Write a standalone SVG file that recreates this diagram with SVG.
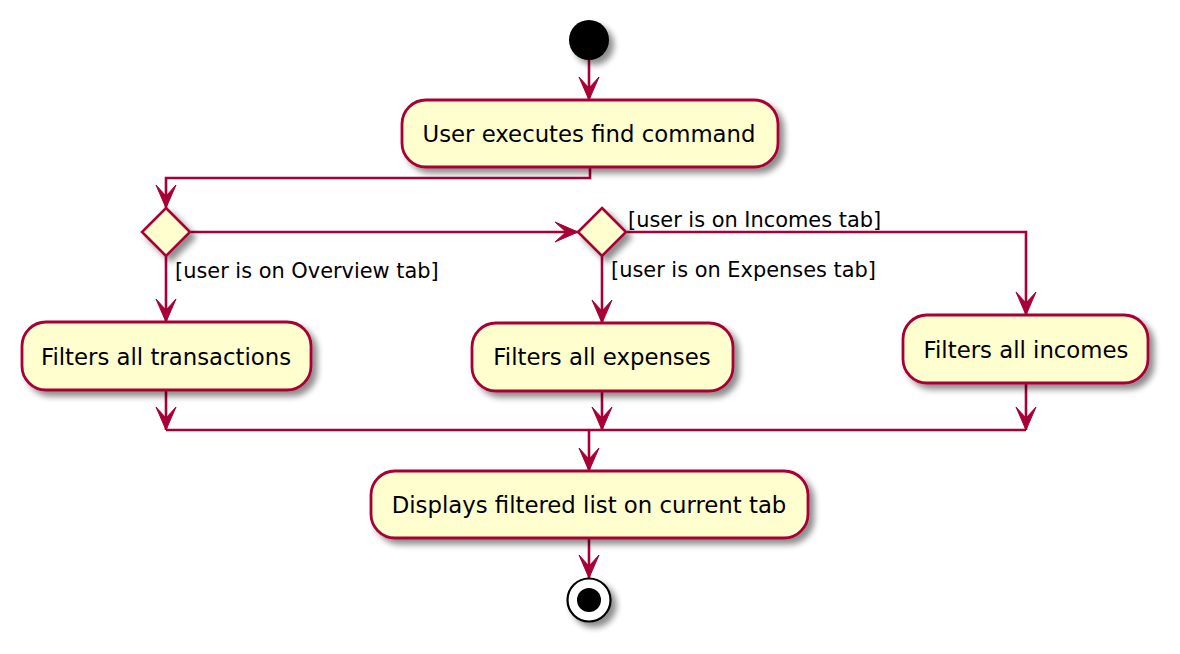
<svg xmlns="http://www.w3.org/2000/svg" width="1180" height="654" viewBox="0 0 1180 654">
<defs>
<filter id="sh" x="-20%" y="-20%" width="150%" height="160%">
<feGaussianBlur in="SourceAlpha" stdDeviation="3"/>
<feOffset dx="5" dy="5" result="b"/>
<feComponentTransfer><feFuncA type="linear" slope="0.45"/></feComponentTransfer>
<feMerge><feMergeNode/><feMergeNode in="SourceGraphic"/></feMerge>
</filter>
<marker id="ah" viewBox="0 0 24 22" refX="23" refY="11" markerWidth="24" markerHeight="22" markerUnits="userSpaceOnUse" orient="auto">
<polygon points="23,11 0,1 11,11 0,21" fill="#A80036" stroke="#A80036" stroke-width="1" stroke-linejoin="miter"/>
</marker>
</defs>
<style>
.act{fill:#FEFECE;stroke:#A80036;stroke-width:2.8}
.txt{font-family:"DejaVu Sans","Liberation Sans",sans-serif;font-size:22.8px;fill:#000;text-anchor:middle}
.lbl{font-family:"DejaVu Sans","Liberation Sans",sans-serif;font-size:20.9px;fill:#000}
.ln{fill:none;stroke:#A80036;stroke-width:2.6}
</style>
<rect width="1180" height="654" fill="#FFFFFF"/>

<g id="connectors">
<line class="ln" x1="589" y1="60" x2="589" y2="100" marker-end="url(#ah)"/>
<polyline class="ln" points="590,167 590,178 166,178 166,208" marker-end="url(#ah)"/>
<line class="ln" x1="191" y1="232" x2="578" y2="232" marker-end="url(#ah)"/>
<line class="ln" x1="166" y1="256" x2="166" y2="322" marker-end="url(#ah)"/>
<line class="ln" x1="602" y1="256" x2="602" y2="323" marker-end="url(#ah)"/>
<polyline class="ln" points="627,232 1026,232 1026,315" marker-end="url(#ah)"/>
<line class="ln" x1="166" y1="390" x2="166" y2="430" marker-end="url(#ah)"/>
<line class="ln" x1="602" y1="391" x2="602" y2="430" marker-end="url(#ah)"/>
<line class="ln" x1="1026" y1="383" x2="1026" y2="430" marker-end="url(#ah)"/>
<line class="ln" x1="166" y1="430" x2="1026" y2="430"/>
<line class="ln" x1="589" y1="430" x2="589" y2="471" marker-end="url(#ah)"/>
<line class="ln" x1="589" y1="538" x2="589" y2="578" marker-end="url(#ah)"/>
<text class="lbl" x="175" y="278">[user is on Overview tab]</text>
<text class="lbl" x="628" y="227">[user is on Incomes tab]</text>
<text class="lbl" x="611" y="277">[user is on Expenses tab]</text>
</g>

<g id="start">
<circle cx="589" cy="40" r="20" fill="#000" filter="url(#sh)"/>
</g>

<g id="a1">
<rect class="act" x="402" y="100" width="376" height="67" rx="24" filter="url(#sh)"/>
<text class="txt" x="589" y="142">User executes find command</text>
</g>

<g id="d1">
<polygon points="166,208 190,232 166,256 142,232" fill="#FEFECE" stroke="#A80036" stroke-width="2.6" filter="url(#sh)"/>
</g>

<g id="d2">
<polygon points="602,208 626,232 602,256 578,232" fill="#FEFECE" stroke="#A80036" stroke-width="2.6" filter="url(#sh)"/>
</g>

<g id="a2">
<rect class="act" x="22" y="322" width="289" height="68" rx="24" filter="url(#sh)"/>
<text class="txt" x="166" y="365">Filters all transactions</text>
</g>

<g id="a3">
<rect class="act" x="472" y="323" width="261" height="68" rx="24" filter="url(#sh)"/>
<text class="txt" x="602" y="365">Filters all expenses</text>
</g>

<g id="a4">
<rect class="act" x="903" y="315" width="245" height="68" rx="24" filter="url(#sh)"/>
<text class="txt" x="1026" y="358">Filters all incomes</text>
</g>

<g id="a5">
<rect class="act" x="371" y="471" width="437" height="67" rx="24" filter="url(#sh)"/>
<text class="txt" x="589" y="513">Displays filtered list on current tab</text>
</g>

<g id="end">
<circle cx="589" cy="600" r="21.5" fill="#FFFFFF" stroke="#000" stroke-width="2.2" filter="url(#sh)"/>
<circle cx="589" cy="600" r="12" fill="#000"/>
</g>
</svg>
